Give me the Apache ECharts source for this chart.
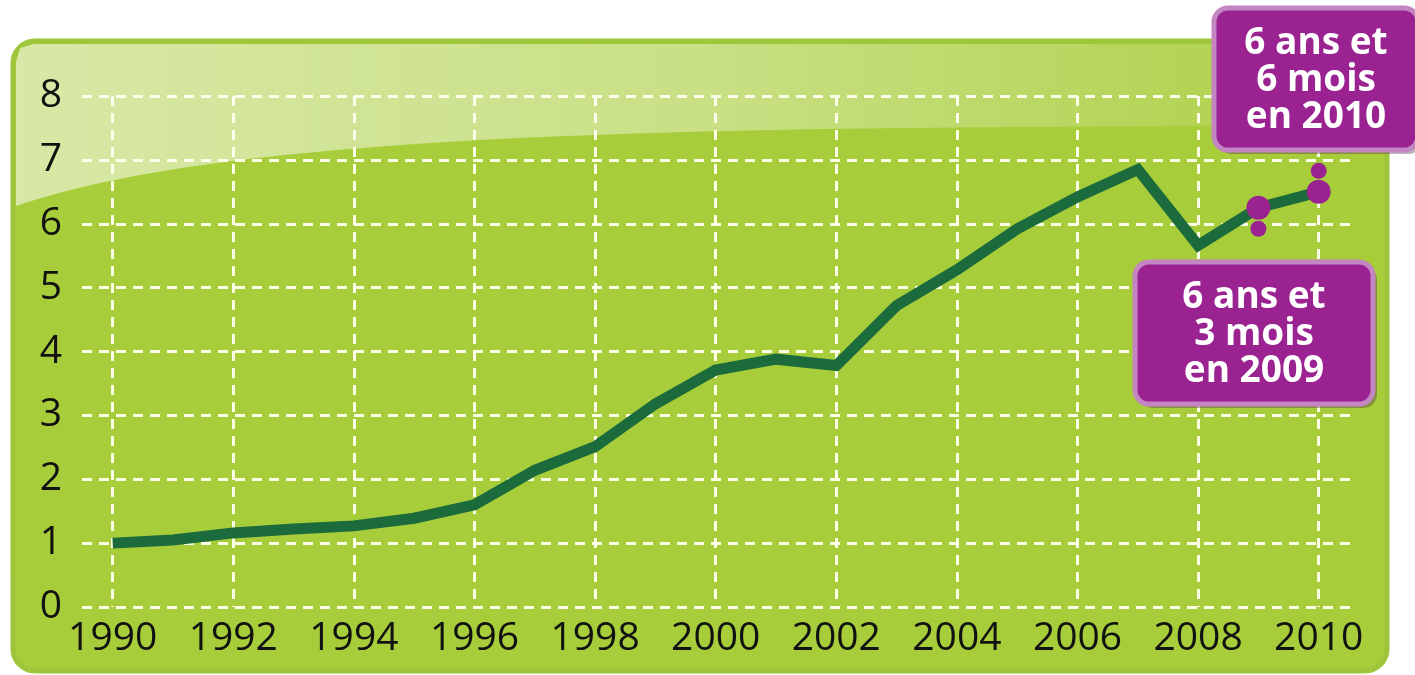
<!DOCTYPE html>
<html>
<head>
<meta charset="utf-8">
<script src="https://cdn.jsdelivr.net/npm/echarts@6/dist/echarts.min.js"></script>
<style>
html,body{margin:0;padding:0;background:#ffffff;}
#chart{width:1415px;height:675px;}
</style>
</head>
<body>
<div id="chart"></div>
<script>
const years = [1990,1991,1992,1993,1994,1995,1996,1997,1998,1999,2000,2001,2002,2003,2004,2005,2006,2007,2008,2009,2010];
const values = [1.0,1.05,1.16,1.22,1.27,1.39,1.6,2.14,2.51,3.18,3.71,3.88,3.78,4.72,5.28,5.92,6.42,6.85,5.66,6.25,6.5];
const highlightYears = [2009, 2010];
const highlightLabels = ['6 ans et\n3 mois\nen 2009', '6 ans et\n6 mois\nen 2010'];
const yTicks = [0,1,2,3,4,5,6,7,8];

const lineData = years.map((y, i) => {
  const hl = highlightYears.indexOf(y) >= 0;
  return {
    value: [y, values[i]],
    symbol: hl ? 'circle' : 'none',
    symbolSize: hl ? 24 : 0,
    itemStyle: { color: '#9a2391', opacity: 1 }
  };
});
const dotData = highlightYears.map((y, k) => ({
  value: [y, values[years.indexOf(y)]],
  symbolOffset: [0, k === 0 ? 21 : -21]
}));

// decorative glossy highlight outline (background shape only)
function glossPoints() {
  const pts = [];
  const p0 = [16, 206], p1 = [180, 150], p2 = [480, 133], p3 = [900, 128];
  for (let i = 0; i <= 40; i++) {
    const t = i / 40, u = 1 - t;
    pts.push([
      u*u*u*p0[0] + 3*u*u*t*p1[0] + 3*u*t*t*p2[0] + t*t*t*p3[0],
      u*u*u*p0[1] + 3*u*u*t*p1[1] + 3*u*t*t*p2[1] + t*t*t*p3[1]
    ]);
  }
  pts.push([1384, 124], [1384, 60], [1380, 48], [1366, 44], [34, 44], [20, 48], [16, 62]);
  return pts;
}

function labelBox(x, y, w, h, text) {
  return [
    { type: 'rect', z: 100, shape: { x: x + 4, y: y + 4, width: w, height: h, r: 14 },
      style: { fill: 'rgba(70,30,70,0.35)' } },
    { type: 'rect', z: 101, shape: { x: x, y: y, width: w, height: h, r: 14 },
      style: { fill: '#9a2391', stroke: '#c386c3', lineWidth: 5 } },
    { type: 'text', z: 102, x: x + w / 2, y: y + h / 2 + 1,
      style: { text: text, fill: '#ffffff', font: 'bold 37px "Open Sans"',
        align: 'center', verticalAlign: 'middle', lineHeight: 37 } }
  ];
}

const chart = echarts.init(document.getElementById('chart'), null, {renderer: 'canvas'});
const gridTop = 96, gridBottom = 68;
const dash = { color: 'rgba(255,255,240,0.95)', width: 3, type: [10, 7] };

chart.setOption({
  animation: false,
  backgroundColor: '#ffffff',
  graphic: [
    { type: 'rect', z: -20, shape: { x: 13, y: 41, width: 1374, height: 630, r: 22 },
      style: { fill: '#a8cd3a', stroke: '#9ec63a', lineWidth: 5 } },
    { type: 'polygon', z: -19,
      shape: { points: glossPoints() },
      style: { fill: { type: 'linear', x: 0, y: 0, x2: 1, y2: 0, colorStops: [
        { offset: 0, color: 'rgba(255,255,255,0.55)' },
        { offset: 0.5, color: 'rgba(255,255,255,0.38)' },
        { offset: 1, color: 'rgba(255,255,255,0.05)' }
      ] } } }
  ].concat(labelBox(1135, 262, 238, 142, highlightLabels[0]))
   .concat(labelBox(1214, 8, 204, 142, highlightLabels[1])),
  grid: [
    { left: 82, right: 63, top: gridTop, bottom: gridBottom },
    { left: 112.7, right: 96.3, top: gridTop, bottom: gridBottom }
  ],
  xAxis: [
    { gridIndex: 0, type: 'value', min: 1989.5, max: 2010.5, show: false },
    { gridIndex: 1, type: 'value', min: 1990, max: 2010, interval: 2,
      axisLine: { show: false }, axisTick: { show: false },
      axisLabel: { fontFamily: 'Open Sans', fontSize: 39, color: '#111', margin: 12,
        formatter: v => String(v) },
      splitLine: { show: true, lineStyle: dash } }
  ],
  yAxis: [
    { gridIndex: 0, type: 'value', min: 0, max: 8, interval: 1,
      axisLine: { show: false }, axisTick: { show: false },
      axisLabel: { fontFamily: 'Open Sans', fontSize: 39, color: '#111', margin: 20,
        formatter: v => yTicks.indexOf(v) >= 0 ? String(v) : '' },
      splitLine: { show: true, lineStyle: dash } },
    { gridIndex: 1, type: 'value', min: 0, max: 8, interval: 1, show: false,
      splitLine: { show: false } }
  ],
  series: [
    { type: 'line', xAxisIndex: 1, yAxisIndex: 1, data: lineData,
      lineStyle: { color: '#1b6b3c', width: 11, join: 'miter' },
      z: 5, silent: true },
    { type: 'scatter', xAxisIndex: 1, yAxisIndex: 1, data: dotData,
      symbol: 'circle', symbolSize: 16, itemStyle: { color: '#9a2391', opacity: 1 }, z: 6, silent: true }
  ]
});
</script>
</body>
</html>
